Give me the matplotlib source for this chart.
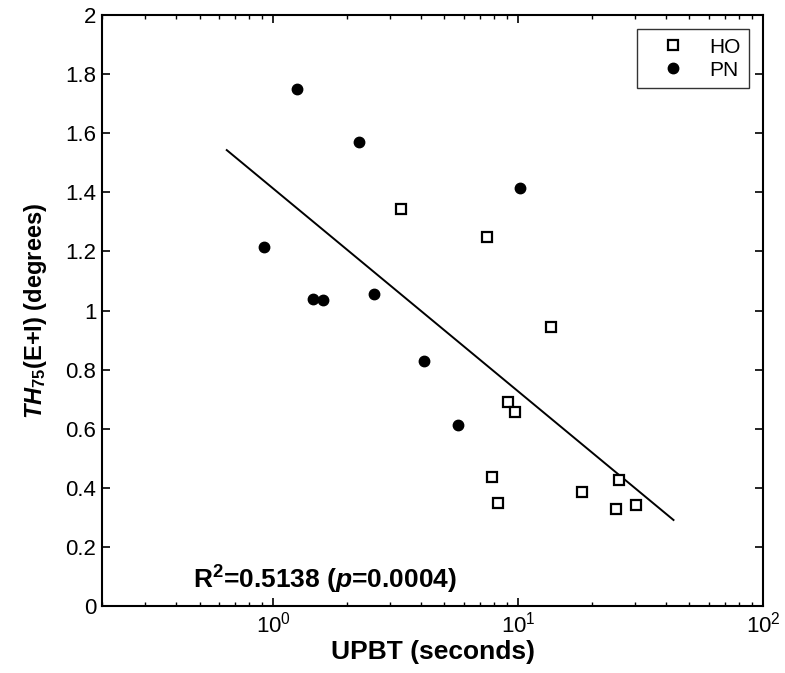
import matplotlib
matplotlib.use('Agg')
import matplotlib.pyplot as plt
import numpy as np

plt.rcParams['font.family'] = ['Liberation Sans', 'DejaVu Sans']
plt.rcParams['mathtext.fontset'] = 'custom'
plt.rcParams['mathtext.rm'] = 'Liberation Sans:bold'
plt.rcParams['mathtext.it'] = 'Liberation Sans:italic:bold'
plt.rcParams['mathtext.bf'] = 'Liberation Sans:bold'

# HO group (open squares)
ho_x = [3.32, 7.44, 13.6, 9.07, 9.75, 7.80, 8.3, 18.3, 25.7, 25.0, 30.2]
ho_y = [1.342, 1.248, 0.945, 0.689, 0.656, 0.438, 0.347, 0.386, 0.425, 0.327, 0.341]

# PN group (filled circles)
pn_x = [1.25, 2.23, 0.92, 1.46, 1.60, 2.59, 10.2, 4.11, 5.69]
pn_y = [1.75, 1.57, 1.215, 1.04, 1.035, 1.056, 1.416, 0.829, 0.613]

# regression line end points
fit_x = [0.646, 43.1]
fit_y = [1.543, 0.291]

fig = plt.figure(figsize=(7.85, 6.73), dpi=100)
ax = fig.add_axes([0.130, 0.0996, 0.842, 0.878])

ax.plot(fit_x, fit_y, color='black', lw=1.4)
ax.plot(ho_x, ho_y, 's', mfc='white', mec='black', mew=1.6, ms=7.5, ls='none', label='HO')
ax.plot(pn_x, pn_y, 'o', color='black', ms=7.5, ls='none', label='PN')

ax.set_xscale('log')
ax.set_xlim(0.2, 100)
ax.set_ylim(0, 2)
ax.set_yticks(np.arange(0, 2.01, 0.2))
ax.set_yticklabels(['0', '0.2', '0.4', '0.6', '0.8', '1', '1.2', '1.4', '1.6', '1.8', '2'])

ax.tick_params(which='both', direction='in', top=True, right=True, labelsize=16)
ax.tick_params(which='major', length=6, width=1.2, pad=4)
ax.tick_params(which='minor', length=3, width=1.0)
for s in ax.spines.values():
    s.set_linewidth(1.5)

ax.set_xlabel('UPBT (seconds)', fontsize=19, fontweight='bold', labelpad=2)
ax.set_ylabel(r'$TH_{75}$(E+I) (degrees)', fontsize=17, fontweight='bold', labelpad=12)

ax.text(0.47, 0.06, r'R$^2$=0.5138 ($p$=0.0004)', fontsize=19, fontweight='bold')

leg = ax.legend(loc='upper right', fontsize=15, frameon=True, fancybox=False,
                edgecolor='black', handlelength=2.7, handletextpad=0.4,
                borderpad=0.4, labelspacing=0.2, borderaxespad=0,
                bbox_to_anchor=(0.979, 0.976))
leg.get_frame().set_linewidth(1.0)

fig.savefig('out.png', dpi=100)
